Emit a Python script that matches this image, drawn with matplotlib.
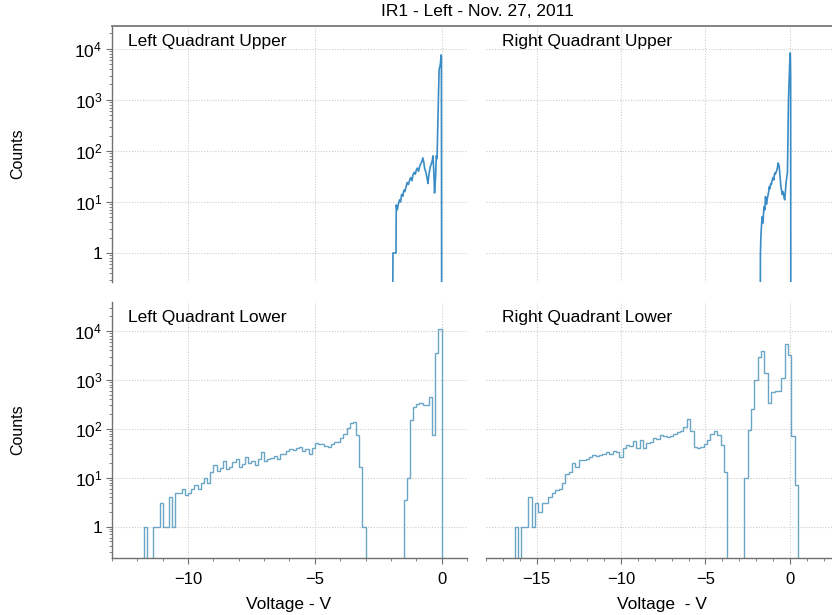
import numpy as np
import matplotlib
matplotlib.use('Agg')
import matplotlib.pyplot as plt
from matplotlib.ticker import FixedLocator, FixedFormatter, LogLocator, NullFormatter, MultipleLocator
from matplotlib.lines import Line2D

plt.rcParams['font.family'] = ['Liberation Sans', 'DejaVu Sans']
plt.rcParams['mathtext.fontset'] = 'custom'
plt.rcParams['mathtext.rm'] = 'Liberation Sans'
plt.rcParams['mathtext.it'] = 'Liberation Sans:italic'
plt.rcParams['mathtext.bf'] = 'Liberation Sans:bold'

# ---------------- data ----------------
title = "IR1 - Left - Nov. 27, 2011"
panel_titles = ["Left Quadrant Upper", "Right Quadrant Upper",
                "Left Quadrant Lower", "Right Quadrant Lower"]

# Upper panels: fine-resolution line traces (voltage, counts)
tl_x = [-1.93, -1.92, -1.86, -1.80, -1.79, -1.75, -1.71, -1.66, -1.62, -1.58,
        -1.53, -1.49, -1.45, -1.40, -1.36, -1.31, -1.26, -1.22, -1.17, -1.13,
        -1.08, -1.04, -1.00, -0.96, -0.91, -0.87, -0.83, -0.78, -0.74, -0.70,
        -0.67, -0.62, -0.58, -0.54, -0.50, -0.45, -0.41, -0.37, -0.34, -0.31,
        -0.28, -0.24, -0.21, -0.18, -0.15, -0.10, -0.05, -0.02, -0.01, 0.00]
tl_y = [0.1, 1, 1, 1, 8.7, 7, 9, 11, 10, 14,
        13, 17, 16, 20, 24, 22, 27, 30, 26, 34,
        38, 35, 42, 46, 40, 49, 55, 62, 73, 58,
        45, 38, 30, 23, 35, 48, 55, 65, 80, 40,
        15, 30, 80, 70, 350, 3900, 5000, 7600, 7000, 0.1]

tr_x = [-1.75, -1.74, -1.71, -1.68, -1.64, -1.61, -1.58, -1.55, -1.52, -1.48,
        -1.44, -1.41, -1.38, -1.34, -1.31, -1.28, -1.24, -1.21, -1.19, -1.15,
        -1.12, -1.09, -1.05, -1.02, -0.99, -0.95, -0.92, -0.89, -0.85, -0.82,
        -0.79, -0.75, -0.72, -0.69, -0.66, -0.63, -0.59, -0.56, -0.53, -0.49,
        -0.45, -0.42, -0.38, -0.34, -0.30, -0.26, -0.23, -0.20, -0.17, -0.14,
        -0.11, -0.08, -0.05, -0.02, 0.01, 0.03, 0.05, 0.06]
tr_y = [0.1, 1, 2.2, 3.3, 5.1, 3.8, 4.5, 6.5, 8.1, 7,
        12.7, 10, 9, 11, 12.7, 14, 17, 20, 18, 21,
        23, 22, 26, 28, 30, 27, 33, 37, 35, 38,
        40, 44, 50, 58, 54, 50, 35, 27, 20, 17,
        14, 16, 15, 12, 11, 16, 22, 27, 32, 37,
        180, 930, 2000, 3500, 7600, 8300, 3000, 0.1]

# Lower panels: step histograms (bin start, bin width, counts per bin)
bl_start = -11.75
bl_width = 0.125
bl_counts = [1, 0, 0, 1, 1, 3, 1, 1,
             4, 1, 5, 5, 6, 4.5, 5, 6,
             7, 6, 8, 10, 8, 13, 18, 14,
             16, 22, 15, 17, 21, 24, 17, 19,
             26, 20, 22, 18, 24, 33, 22, 24,
             25, 28, 24, 30, 31, 35, 38, 37,
             40, 42, 36, 38, 30, 40, 52, 48,
             50, 45, 42, 50, 55, 54, 65, 80,
             105, 130, 140, 75, 17, 1, 0, 0,
             0, 0, 0, 0, 0, 0, 0, 0,
             0, 0, 3.5, 10, 150, 280, 320, 330,
             300, 310, 440, 75, 3500, 11000, 0, 0]

br_start = -16.3
br_width = 0.2
br_counts = [1, 0, 1, 1, 4, 1, 3, 2, 3, 3,
             4, 5, 5.7, 6, 8, 12, 13, 20, 17, 23,
             23, 24, 26, 29, 28, 29, 30, 33, 31, 35,
             33, 27, 40, 47, 45, 57, 40, 60, 40, 52,
             55, 64, 62, 74, 72, 68, 70, 80, 85, 92,
             110, 160, 90, 42, 40, 43, 50, 60, 78, 90,
             75, 47, 13, 0, 0, 0, 0, 0, 10, 94,
             260, 1000, 2900, 3900, 1400, 330, 560, 600, 600, 1100,
             5300, 3300, 70, 7, 0]

ytick_vals = [1, 10, 100, 1000, 10000]
ytick_labels = ['1', r'$\mathdefault{10^{1}}$', r'$\mathdefault{10^{2}}$',
                r'$\mathdefault{10^{3}}$', r'$\mathdefault{10^{4}}$']
left_xticks = [-10, -5, 0]
right_xticks = [-15, -10, -5, 0]

# ---------------- figure ----------------
W, H = 832, 615
fig = plt.figure(figsize=(W / 100, H / 100), dpi=100)


def add_ax(x0, y0, x1, y1):
    return fig.add_axes([x0 / W, 1 - y1 / H, (x1 - x0) / W, (y1 - y0) / H])


ax_tl = add_ax(112, 26, 467, 282)
ax_tr = add_ax(486, 26, 832, 282)
ax_bl = add_ax(112, 302, 467, 558)
ax_br = add_ax(486, 302, 832, 558)

top_color = '#3a8cc6'
low_color = '#6aa6c6'
grid_kw = dict(color='#cccccc', linestyle=(0, (1, 1.5)), linewidth=0.8)
spine_color = '#707070'


def setup(ax, xlim, ylim, xticks, left, bottom):
    ax.set_yscale('log')
    ax.set_xlim(*xlim)
    ax.set_ylim(*ylim)
    ax.yaxis.set_major_locator(FixedLocator(ytick_vals))
    ax.yaxis.set_major_formatter(FixedFormatter(ytick_labels))
    ax.yaxis.set_minor_locator(LogLocator(base=10, subs=np.arange(2, 10)))
    ax.yaxis.set_minor_formatter(NullFormatter())
    ax.xaxis.set_major_locator(FixedLocator(xticks))
    ax.xaxis.set_minor_locator(MultipleLocator(1))
    ax.grid(True, which='major', **grid_kw)
    ax.set_axisbelow(True)
    for s in ['top', 'right', 'left', 'bottom']:
        ax.spines[s].set_visible(False)
    ax.spines['left'].set_visible(left)
    ax.spines['bottom'].set_visible(bottom)
    for s in ['left', 'bottom']:
        ax.spines[s].set_color(spine_color)
        ax.spines[s].set_linewidth(1.0)
    ax.tick_params(axis='both', which='both', direction='out', colors=spine_color,
                   labelcolor='black', labelsize=12)
    ax.tick_params(axis='y', which='major', labelsize=12.5)
    ax.tick_params(axis='both', which='major', length=4, width=0.8)
    ax.tick_params(axis='both', which='minor', length=2.5, width=0.6)
    ax.tick_params(axis='y', which='both', left=left, labelleft=left, right=False)
    ax.tick_params(axis='x', which='both', bottom=bottom, labelbottom=bottom, top=False)
    ax.tick_params(axis='x', which='major', pad=6)
    ax.tick_params(axis='y', which='major', pad=3)


setup(ax_tl, (-13, 1), (0.27, 28000), left_xticks, True, False)
setup(ax_tr, (-18, 2.5), (0.27, 28000), right_xticks, False, False)
setup(ax_bl, (-13, 1), (0.23, 39000), left_xticks, True, True)
setup(ax_br, (-18, 2.5), (0.23, 39000), right_xticks, False, True)

ax_tl.plot(tl_x, tl_y, color=top_color, lw=1.2)
ax_tr.plot(tr_x, tr_y, color=top_color, lw=1.2)


def draw_hist(ax, start, width, counts):
    c = np.asarray(counts, dtype=float)
    edges = start + width * np.arange(len(c) + 1)
    vals = np.where(c > 0, c, 1e-3)
    ax.stairs(vals, edges, color=low_color, lw=1.0, baseline=1e-3)


draw_hist(ax_bl, bl_start, bl_width, bl_counts)
draw_hist(ax_br, br_start, br_width, br_counts)

for ax, t in zip([ax_tl, ax_tr, ax_bl, ax_br], panel_titles):
    ax.text(0.045, 0.94, t, transform=ax.transAxes, ha='left', va='center',
            fontsize=12.5, color='black')

# top frame line across upper panels
fig.add_artist(Line2D([112 / W, 1.0], [1 - 26 / H, 1 - 26 / H],
                      color='#7a7a7a', lw=1.3, transform=fig.transFigure))

fig.text(477 / W, 1 - 12 / H, title, ha='center', va='center', fontsize=12.5)
fig.text(18 / W, 1 - 154 / H, 'Counts', rotation=90, ha='center', va='center', fontsize=11.5)
fig.text(18 / W, 1 - 430 / H, 'Counts', rotation=90, ha='center', va='center', fontsize=11.5)
fig.text(289 / W, 1 - 604 / H, 'Voltage - V', ha='center', va='center', fontsize=12.5)
fig.text(662 / W, 1 - 604 / H, 'Voltage  - V', ha='center', va='center', fontsize=12.5)

fig.savefig('out.png', dpi=100)
